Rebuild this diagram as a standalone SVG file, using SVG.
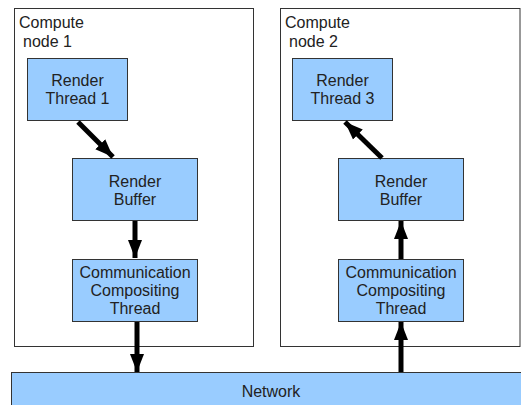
<svg xmlns="http://www.w3.org/2000/svg" width="521" height="405" viewBox="0 0 521 405">
<defs>
<style>
.outer{fill:#fff;stroke:#333;stroke-width:1}
.box{fill:#99ccff;stroke:#333;stroke-width:1}
.t{font-family:"Liberation Sans",Arial,sans-serif;font-size:16px;fill:#222}
.c{text-anchor:middle}
.conn{stroke:#000;stroke-width:5;fill:none;marker-end:url(#ah)}
</style>
<marker id="ah" markerUnits="userSpaceOnUse" markerWidth="18" markerHeight="16" viewBox="0 0 18 16" refX="18" refY="8" orient="auto">
<path d="M0,1 L18,8 L0,15 Z" fill="#000"/>
</marker>
</defs>
<g id="compute-node-1">
<rect class="outer" x="14.5" y="8.5" width="239" height="338"/>
<text class="t" x="19" y="28">Compute</text>
<text class="t" x="23" y="47">node 1</text>
</g>
<g id="compute-node-2">
<rect class="outer" x="280.5" y="8.5" width="239.5" height="338"/>
<text class="t" x="285" y="28">Compute</text>
<text class="t" x="289" y="47">node 2</text>
</g>
<g id="network">
<rect class="box" x="11.5" y="372.5" width="515" height="40"/>
<text class="t c" x="271" y="397">Network</text>
</g>
<g id="render-thread-1">
<rect class="box" x="27.5" y="58.5" width="100" height="62"/>
<text class="t c" x="77.5" y="86">Render</text>
<text class="t c" x="77.5" y="104">Thread 1</text>
</g>
<g id="render-buffer-1">
<rect class="box" x="72.5" y="158.5" width="125" height="62"/>
<text class="t c" x="135" y="187">Render</text>
<text class="t c" x="135" y="205">Buffer</text>
</g>
<g id="comm-1">
<rect class="box" x="72.5" y="259.5" width="125" height="62"/>
<text class="t c" x="135" y="278">Communication</text>
<text class="t c" x="135" y="296">Compositing</text>
<text class="t c" x="135" y="314">Thread</text>
</g>
<g id="render-thread-3">
<rect class="box" x="292.5" y="58.5" width="100" height="62"/>
<text class="t c" x="342.5" y="86">Render</text>
<text class="t c" x="342.5" y="104">Thread 3</text>
</g>
<g id="render-buffer-2">
<rect class="box" x="338.5" y="158.5" width="125" height="62"/>
<text class="t c" x="401" y="187">Render</text>
<text class="t c" x="401" y="205">Buffer</text>
</g>
<g id="comm-2">
<rect class="box" x="338.5" y="259.5" width="125" height="62"/>
<text class="t c" x="401" y="278">Communication</text>
<text class="t c" x="401" y="296">Compositing</text>
<text class="t c" x="401" y="314">Thread</text>
</g>
<g id="connectors">
<line class="conn" x1="78" y1="122" x2="113" y2="157"/>
<line class="conn" x1="135" y1="221" x2="135" y2="258"/>
<line class="conn" x1="137" y1="322" x2="137" y2="372"/>
<line class="conn" x1="401" y1="372" x2="401" y2="322"/>
<line class="conn" x1="401" y1="259" x2="401" y2="221"/>
<line class="conn" x1="382" y1="158" x2="345" y2="122"/>
</g>
</svg>
